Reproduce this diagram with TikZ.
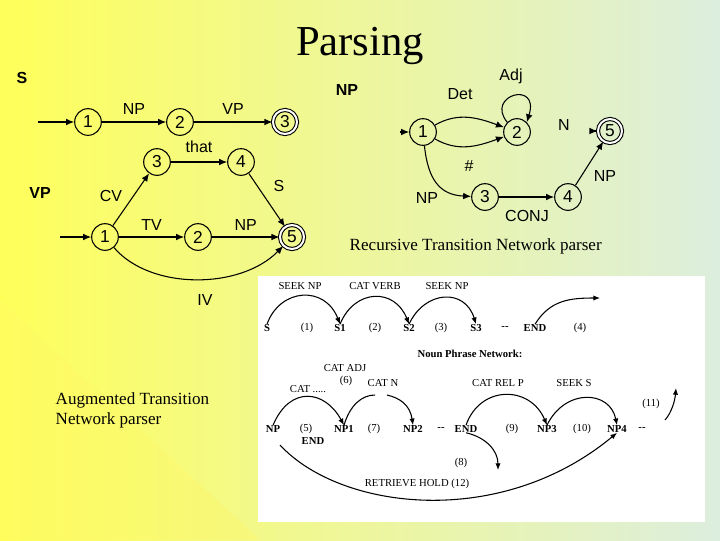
\documentclass[tikz,border=0pt]{standalone}
\usepackage{fontspec}
\setmainfont{Liberation Serif}
\setsansfont{Liberation Sans}
\usetikzlibrary{arrows.meta}
\begin{document}
\begin{tikzpicture}[x=0.75pt,y=-0.75pt,
 st/.style={circle,draw,thick,minimum size=20pt,inner sep=0pt,font=\sffamily\fontsize{13}{13}\selectfont},
 fin/.style={st,double,double distance=1.5pt,minimum size=18pt},
 ed/.style={-{Latex[length=6pt,width=5pt]},thick},
 lb/.style={font=\sffamily\fontsize{12}{12}\selectfont},
 bl/.style={font=\sffamily\bfseries\fontsize{12}{12}\selectfont},
 tx/.style={font=\fontsize{12.8}{15}\selectfont,align=left},
 sm/.style={font=\fontsize{8}{8}\selectfont,inner sep=0pt},
 sb/.style={font=\bfseries\fontsize{8}{8}\selectfont,inner sep=0pt},
 ar/.style={-{Latex[length=5pt,width=4pt]},thick}]
\useasboundingbox (0,0) rectangle (720,540);
\shade[left color={rgb,255:red,255;green,255;blue,90},right color={rgb,255:red,220;green,238;blue,222}] (0,0) rectangle (720,540);
\fill[yellow!60!white,opacity=0.35] (0,540) -- (0,300) -- (260,540) -- cycle;
\node[font=\fontsize{32}{32}\selectfont] (title) at (360,46) {Parsing};
% S network
\node[bl] (lS) at (22,78) {S};
\coordinate (s0) at (38,122);
\node[st] (s1) at (88,122) {1};
\node[st] (s2) at (180,122) {2};
\node[fin] (s3) at (285,122) {3};
\draw[ed] (s0) -- (s1);
\draw[ed] (s1) -- node[lb,above=2pt]{NP} (s2);
\draw[ed] (s2) -- node[lb,above=2pt]{VP} (s3);
% VP network
\node[bl] (lVP) at (40,193) {VP};
\coordinate (v0) at (60,237);
\node[st] (v1) at (105,237) {1};
\node[st] (v2) at (198,237) {2};
\node[st] (v3) at (157,162) {3};
\node[st] (v4) at (241,162) {4};
\node[fin] (v5) at (292,237) {5};
\draw[ed] (v0) -- (v1);
\draw[ed] (v1) -- (v3);
\node[lb] (lCV) at (111,196) {CV};
\draw[ed] (v3) -- node[lb,above=3pt]{that} (v4);
\draw[ed] (v4) -- (v5);
\node[lb] (lS2) at (279,186) {S};
\draw[ed] (v1) -- node[lb,above=1pt]{TV} (v2);
\draw[ed] (v2) -- node[lb,above=1pt]{NP} (v5);
\draw[ed] (v1) .. controls (150,290) and (240,290) .. (v5);
\node[lb] (lIV) at (205,300) {IV};
% NP network
\node[bl] (lNP) at (347,90) {NP};
\coordinate (n0) at (400,132);
\coordinate (n5a) at (596,131);
\node[st] (n1) at (423,132) {1};
\node[st] (n2) at (517,132) {2};
\node[fin] (n5) at (610,131) {5};
\node[st] (n3) at (485,197) {3};
\node[st] (n4) at (568,197) {4};
\draw[ed] (n0) -- (n1);
\draw[ed] (n1) to[out=30,in=160] (n2);
\draw[ed] (n1) to[out=-30,in=-160] (n2);
\draw[ed] (n2.north west) .. controls (485,95) and (540,80) .. (n2.north east);
\draw[ed] (n5a) -- (n5);
\draw[ed] (n1) .. controls (428,180) and (440,195) .. (n3);
\draw[ed] (n3) -- (n4);
\draw[ed] (n4) -- (n5);
\node[lb] (lDet) at (460,94) {Det};
\node[lb] (lAdj) at (511,76) {Adj};
\node[lb] (lN) at (564,125) {N};
\node[lb] (lh) at (469,166) {\#};
\node[lb] (lNP3) at (427,198) {NP};
\node[lb] (lCONJ) at (527,216) {CONJ};
\node[lb] (lNP5) at (605,176) {NP};
\node[tx,anchor=west] (rtn) at (345,246) {Recursive Transition Network parser};
\node[tx,anchor=west] (atn) at (51,410) {Augmented Transition\\Network parser};
% ATN box
\fill[white] (258,276) rectangle (705,522);
\node[sb] (a0) at (267,328) {S};
\node[sm] (a1) at (307,328) {(1)};
\node[sb] (aS1) at (340,328) {S1};
\node[sm] (a2) at (375,328) {(2)};
\node[sb] (aS2) at (409,328) {S2};
\node[sm] (a3) at (441,328) {(3)};
\node[sb] (aS3) at (476,328) {S3};
\node[sb] (ad1) at (505,328) {{-}{-}};
\node[sb] (aE) at (535,328) {END};
\node[sm] (a4) at (580,328) {(4)};
\node[sm] (k1) at (300,286) {SEEK NP};
\node[sm] (k2) at (375,286) {CAT VERB};
\node[sm] (k3) at (447,286) {SEEK NP};
\coordinate (e4) at (600,298);
\draw[ar] (a0.north) .. controls (280,288) and (325,285) .. (aS1.north);
\draw[ar] (aS1.north) .. controls (355,288) and (395,288) .. (aS2.north);
\draw[ar] (aS2.north) .. controls (425,290) and (465,288) .. (aS3.north);
\draw[ar] (aE.north) .. controls (550,300) and (570,298) .. (e4);
\node[sb] (npn) at (470,354) {Noun Phrase Network:};
\node[sb] (bNP) at (273,429) {NP};
\node[sm] (b5) at (306,429) {(5)};
\node[sb] (bE1) at (313,441) {END};
\node[sb] (bN1) at (344,429) {NP1};
\node[sm] (b7) at (374,429) {(7)};
\node[sb] (bN2) at (413,429) {NP2};
\node[sb] (bd2) at (441,429) {{-}{-}};
\node[sb] (bE) at (466,429) {END};
\node[sm] (b9) at (512,429) {(9)};
\node[sb] (bN3) at (547,429) {NP3};
\node[sm] (b10) at (582,429) {(10)};
\node[sb] (bN4) at (617,429) {NP4};
\node[sb] (bd3) at (642,429) {{-}{-}};
\node[sm] (c1) at (345,368) {CAT ADJ};
\node[sm] (c2) at (346,381) {(6)};
\node[sm] (c3) at (383,383) {CAT N};
\node[sm] (c4) at (308,389) {CAT .....};
\node[sm] (c5) at (498,383) {CAT REL P};
\node[sm] (c6) at (574,383) {SEEK S};
\node[sm] (c7) at (651,404) {(11)};
\node[sm] (c8) at (461,463) {(8)};
\node[sm] (c9) at (417,484) {RETRIEVE HOLD (12)};
\coordinate (p1) at (375,395);
\coordinate (p2) at (387,395);
\coordinate (p3) at (665,420);
\coordinate (p4) at (676,388);
\coordinate (p5) at (498,470);
\draw[ar] (bNP.north) .. controls (290,385) and (325,390) .. (bN1.north);
\draw[thick] (bN1.north) .. controls (350,405) and (362,395) .. (p1);
\draw[ar] (p2) .. controls (400,398) and (410,405) .. (bN2.north);
\draw[ar] (bE.north) .. controls (480,385) and (530,385) .. (bN3.north);
\draw[ar] (bN3.north) .. controls (565,388) and (610,390) .. (bN4.north);
\draw[ar] (p3) .. controls (672,412) and (675,400) .. (p4);
\draw[ar] (bE.south) .. controls (485,437) and (498,450) .. (p5);
\draw[ar] (280,445) .. controls (340,510) and (500,530) .. (bN4.south);
\end{tikzpicture}
\end{document}
